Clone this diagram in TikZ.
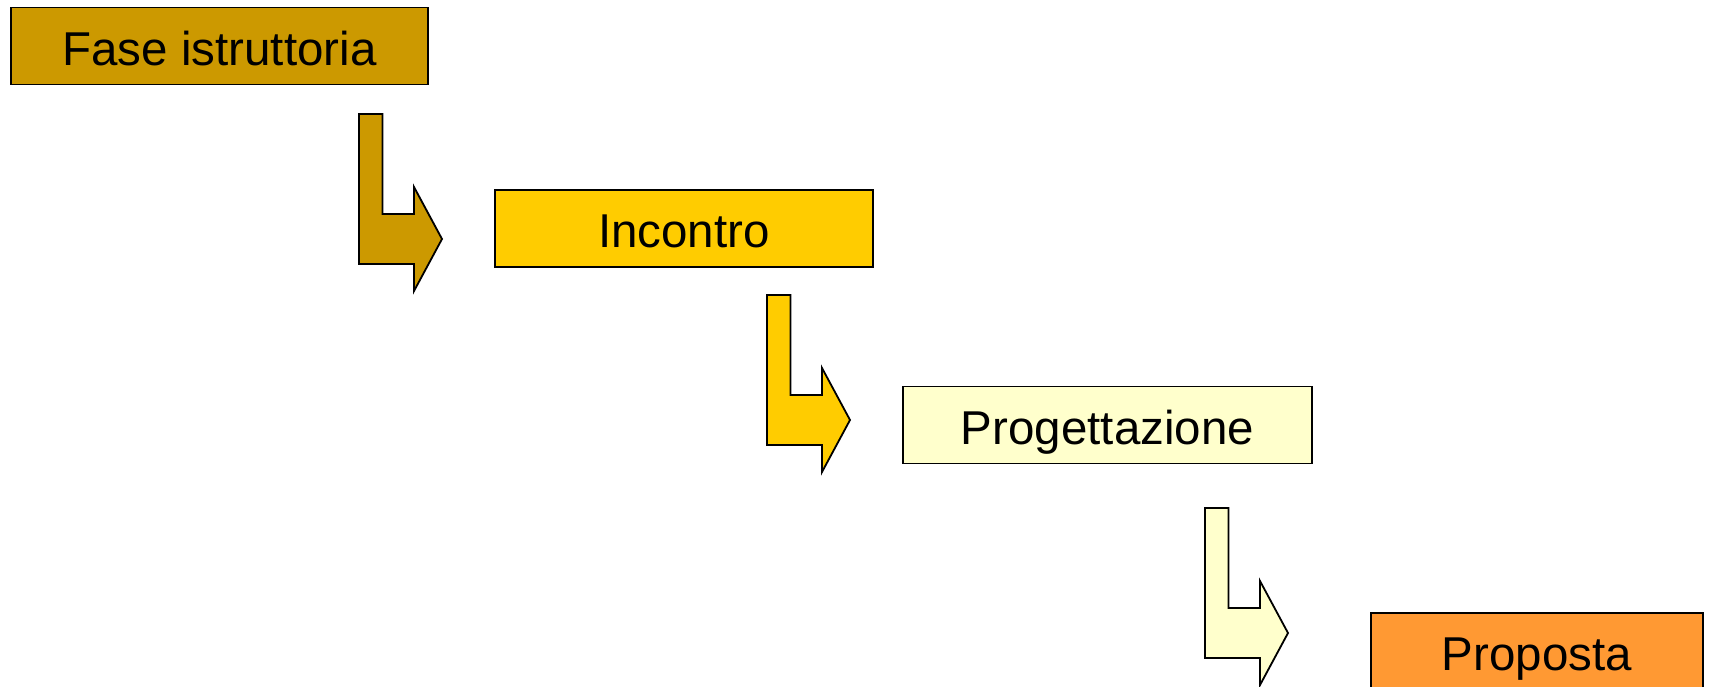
\documentclass[tikz,border=0pt]{standalone}
\usepackage{fontspec}
\setmainfont{Liberation Sans}
\usetikzlibrary{positioning}

\definecolor{faseCol}{HTML}{CC9900}
\definecolor{incontroCol}{HTML}{FFCC00}
\definecolor{progCol}{HTML}{FFFFCC}
\definecolor{propCol}{HTML}{FF9933}

\tikzset{
  phase/.style={draw=black, line width=1.8pt, inner sep=0pt, font=\fontsize{47.5}{50}\selectfont,
    text height=38pt, text depth=0pt, minimum height=77pt},
  bentarrow/.style={draw=black, line width=1.8pt, line join=miter}
}

\begin{document}
\begin{tikzpicture}[x=1pt,y=-1pt]
            \useasboundingbox (0,0) rectangle (1711,686);
            
            \node[phase, fill=faseCol, minimum width=417pt] (fase) at (219.5,46) {Fase istruttoria};
            \node[phase, fill=incontroCol, minimum width=378pt] (incontro) at (684,228.5) {Incontro};
            \node[phase, fill=progCol, minimum width=409pt] (progettazione) at (1107.5,425) {Progettazione};
            \node[phase, fill=propCol, minimum width=332pt] (proposta) at (1537,651.5) {Proposta};
            
            % bent arrows between the phases
            \foreach \x/\y/\c in {359/239/faseCol, 767/420/incontroCol, 1205/633/progCol}
              \draw[bentarrow, fill=\c] (\x,\y-125) -- (\x+23.5,\y-125) -- (\x+23.5,\y-25) -- (\x+55,\y-25)
                -- (\x+55,\y-52) -- (\x+83,\y) -- (\x+55,\y+52) -- (\x+55,\y+25) -- (\x,\y+25) -- cycle;
        \end{tikzpicture}
\end{document}
